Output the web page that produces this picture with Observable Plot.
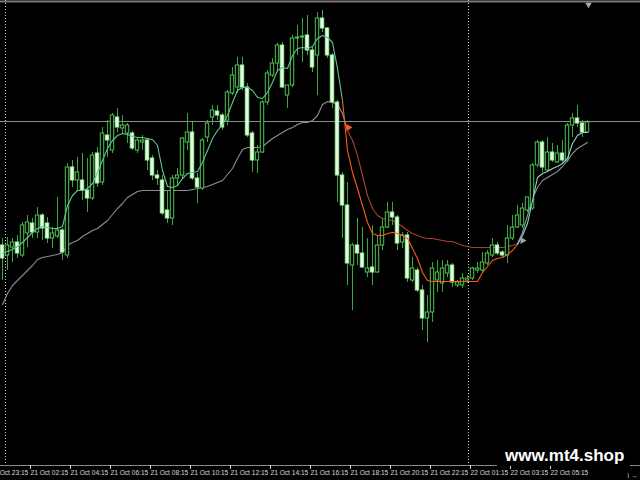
<!DOCTYPE html>
<html><head><meta charset="utf-8">
<script src="https://cdn.jsdelivr.net/npm/d3@7"></script>
<script src="https://cdn.jsdelivr.net/npm/@observablehq/plot@0.6"></script>
<style>
html,body{margin:0;padding:0;background:#000;}
#wrap{position:relative;width:640px;height:480px;overflow:hidden;background:#000;}
#wm{position:absolute;left:497px;top:446px;width:133px;height:20px;background:#000;color:#fff;
 font:bold 17px "Liberation Sans",Arial,sans-serif;line-height:20px;padding-left:8px;box-sizing:border-box;white-space:nowrap;}
</style></head><body><div id="wrap"></div>
<script>
// ---- data (price units, M15 candles) ----
const open = [
255,245,253,258,245,267,277,268,285,277,
262,264,270,245,333,320,320,310,302,347,
318,365,350,383,372,367,367,350,358,360,
342,325,320,290,282,322,325,358,368,322,
312,363,383,389,385,380,407,413,435,413,
367,340,348,398,425,437,455,405,415,462,
463,465,450,445,482,472,445,398,325,295,
235,255,247,228,233,228,255,273,288,283,
258,265,220,230,210,182,188,220,217,227,
235,215,215,220,222,230,230,237,245,255,
248,245,262,273,275,290,292,335,358,330,
348,338,347,340,375,382,377,368];
const high = [
262,263,262,265,278,285,282,293,287,283,
273,303,272,337,340,343,347,342,348,353,
373,380,387,392,385,377,369,362,365,362,
345,330,325,310,325,332,363,387,378,327,
362,380,395,395,387,410,433,443,443,417,
369,355,400,430,442,457,458,415,465,475,
482,485,453,488,490,473,447,400,328,318,
257,282,273,262,275,265,282,298,298,285,
268,268,243,233,215,205,238,240,240,240,
237,220,227,225,233,238,248,250,262,258,
250,275,285,295,297,303,337,360,360,363,
357,355,360,377,387,395,380,380];
const low = [
220,230,238,242,243,253,262,262,260,257,
252,262,240,242,313,310,300,288,300,313,
315,343,347,368,367,357,350,347,350,330,
320,315,285,277,275,315,322,350,320,297,
310,358,375,380,370,375,405,407,410,363,
328,327,347,395,423,430,412,392,413,445,
438,445,428,405,468,442,392,298,262,215,
190,235,232,223,215,227,250,272,275,250,
252,218,218,208,170,158,178,208,208,223,
213,213,212,217,220,227,227,235,243,245,
242,237,260,272,272,288,290,333,328,328,
338,337,338,338,363,373,363,367];
const close = [
242,255,258,247,275,278,268,285,272,262,
267,270,248,333,320,328,310,302,345,317,
367,360,385,373,375,375,352,360,360,340,
325,322,287,282,322,325,362,368,322,313,
360,377,390,385,373,408,425,435,413,365,
340,348,398,427,437,455,413,415,462,463,
464,450,433,482,472,445,398,325,295,237,
255,247,233,232,228,255,273,288,283,257,
265,222,232,210,182,188,232,228,232,235,
218,218,222,222,232,232,238,247,255,247,
245,262,273,285,292,303,335,358,333,348,
340,347,340,375,382,377,368,378];
const fastMA = [
247,249,251,254,258,263,268,272,274,273,
272,272,274,295,305,310,310,312,317,328,
340,352,360,365,367,366,364,363,363,362,
361,355,330,314,313,315,322,327,328,329,
338,350,362,370,376,385,398,410,413,413,
410,403,402,408,418,430,433,432,445,452,
453,452,454,462,465,463,458,432,400,350,
328,312,295,278,267,265,265,267,268,267,
265,262,252,242,228,220,219,219,219,219,
219,219,219,219,219,219,228,234,240,242,
243,246,250,256,265,277,300,323,327,329,
332,334,337,342,357,365,368,368];
const slowMA = [
196,207,215,220,225,230,235,241,243,244,
245,246,248,255,258,260,264,267,270,272,
276,280,286,292,297,303,306,309,310,310,
310,310,310,310,310,310,310,310,311,312,
313,314,316,318,320,326,332,342,351,353,
353,353,354,358,362,365,368,371,373,376,
378,378,380,385,396,399,398,396,387,370,
360,345,325,305,292,285,282,281,280,277,
274,270,267,265,263,262,262,261,260,259,
259,257,255,254,253,253,253,253,253,253,
253,254,255,257,268,285,302,313,320,323,
326,329,334,340,347,352,355,358];
const fastBreaks = [68, 103];      // trend colour switches of the fast line
const slowBreaks = [69, 103];      // trend colour switches of the slow line
const signalIdx = [69.2, 104];
const signalPrice = [373, 260];
const separators = [0.6, 93.2];    // day separators (candle position)
const levelPrice = [379];
const tickIdx = [-2.4,5.6,13.6,21.6,29.6,37.6,45.6,53.6,61.6,69.6,77.6,85.6,93.6,101.6,109.6];
const tickLabels = ["20 Oct 23:15","21 Oct 02:15","21 Oct 04:15","21 Oct 06:15","21 Oct 08:15",
 "21 Oct 10:15","21 Oct 12:15","21 Oct 14:15","21 Oct 16:15","21 Oct 18:15","21 Oct 20:15",
 "21 Oct 22:15","22 Oct 01:15","22 Oct 03:15","22 Oct 05:15"];

// ---- build ----
const candles = open.map((o, i) => ({i, open: o, high: high[i], low: low[i], close: close[i]}));
const tickMap = new Map(tickIdx.map((t, k) => [t, tickLabels[k]]));
function segments(values, breaks, colors) {
  const edges = [0, ...breaks, values.length - 1];
  const out = [];
  for (let k = 0; k < edges.length - 1; k++) {
    const pts = [];
    for (let i = edges[k]; i <= edges[k + 1]; i++) pts.push({i, v: values[i]});
    out.push(Plot.line(pts, {x: "i", y: "v", stroke: colors[k], strokeWidth: 1.1}));
  }
  return out;
}
const signals = signalIdx.map((s, k) => ({i: s, p: signalPrice[k], c: k === 0 ? "#ff5a1e" : "#9aa8a8"}));

const chart = Plot.plot({
  width: 640, height: 480,
  marginTop: 0, marginRight: 0, marginLeft: 0, marginBottom: 15,
  style: {background: "#000", color: "#d8d8d8", fontFamily: "'Liberation Sans', Arial, sans-serif"},
  x: {domain: [-0.4, 127.6], axis: null},
  y: {domain: [35, 500], axis: null},
  marks: [
    Plot.ruleY([499], {stroke: "#7a7a7a", strokeWidth: 2}),
    Plot.ruleY([35], {stroke: "#8a8a8a", strokeWidth: 1}),
    Plot.ruleX(separators, {stroke: "#d0d0d0", strokeDasharray: "1,2", strokeWidth: 1}),
    Plot.ruleY(levelPrice, {stroke: "#8c8c8c", strokeWidth: 1}),
    ...segments(slowMA, slowBreaks, ["#8e8e8e", "#a4452e", "#8e8e8e"]),
    Plot.ruleX(candles, {x: "i", y1: "low", y2: "high", stroke: "#3aa83f", strokeWidth: 1}),
    Plot.rect(candles, {
      x1: d => d.i - 0.34, x2: d => d.i + 0.34, y1: "open", y2: "close",
      fill: d => d.close > d.open ? "#000" : "#dcffdc",
      stroke: d => d.close > d.open ? "#4cc552" : "#a8eca8", strokeWidth: 1
    }),
    ...segments(fastMA, fastBreaks, ["#5ecb8b", "#ff5a1e", "#8fd4d0"]),
    Plot.dot(signals, {x: "i", y: "p", fill: "c", symbol: "triangle", r: 2.6, rotate: -30}),
    Plot.dot([{i: 117.2, p: 496}], {x: "i", y: "p", fill: "#aaaaaa", symbol: "triangle", r: 2.4, rotate: 180}),
    Plot.axisX(tickIdx, {anchor: "bottom", tickSize: 4, tickPadding: 1, textAnchor: "start",
      tickFormat: d => tickMap.get(d), fontSize: 6.6, color: "#dcdcdc"})
  ]
});
const wrap = document.getElementById("wrap");
wrap.appendChild(chart);
const wm = document.createElement("div");
wm.id = "wm"; wm.textContent = "www.mt4.shop";
wrap.appendChild(wm);
</script></body></html>
